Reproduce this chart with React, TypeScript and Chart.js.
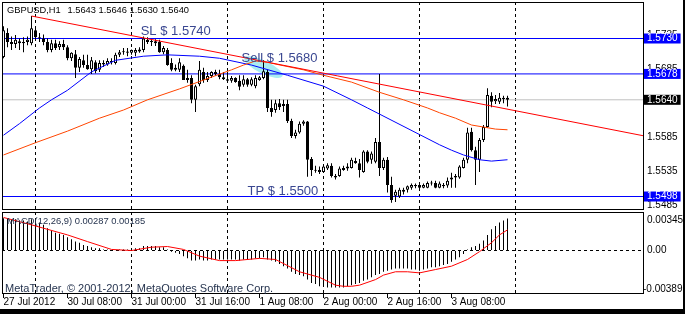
import React, { useEffect, useRef } from 'react';
import { Chart, registerables } from 'chart.js';

Chart.register(...registerables);

const FONT = "'Liberation Sans', Arial, Helvetica, sans-serif";

const symbolName = 'GBPUSD,H1';

const openP = [
  1.5703, 1.5738, 1.5725, 1.5722, 1.5726, 1.5723, 1.5725, 1.5723, 1.5742, 1.5732,
  1.5730, 1.5725, 1.5713, 1.5723, 1.5717, 1.5722, 1.5717, 1.5701, 1.5707, 1.5687,
  1.5698, 1.5691, 1.5685, 1.5695, 1.5684, 1.5694, 1.5692, 1.5697, 1.5694, 1.5706,
  1.5710, 1.5711, 1.5709, 1.5709, 1.5711, 1.5713, 1.5728, 1.5725, 1.5726, 1.5725,
  1.5710, 1.5713, 1.5694, 1.5687, 1.5684, 1.5690, 1.5669, 1.5672, 1.5640, 1.5663,
  1.5681, 1.5669, 1.5675, 1.5681, 1.5678, 1.5673, 1.5670, 1.5668, 1.5672, 1.5668,
  1.5662, 1.5670, 1.5662, 1.5660, 1.5669, 1.5672, 1.5681, 1.5628, 1.5625, 1.5635,
  1.5631, 1.5634, 1.5609, 1.5587, 1.5592, 1.5605, 1.5608, 1.5553, 1.5537, 1.5537,
  1.5534, 1.5539, 1.5543, 1.5528, 1.5528, 1.5537, 1.5539, 1.5540, 1.5550, 1.5547,
  1.5534, 1.5564, 1.5552, 1.5549, 1.5578, 1.5540, 1.5552, 1.5515, 1.5499, 1.5498,
  1.5505, 1.5508, 1.5511, 1.5513, 1.5515, 1.5511, 1.5511, 1.5518, 1.5518, 1.5511,
  1.5513, 1.5514, 1.5523, 1.5526, 1.5526, 1.5540, 1.5552, 1.5593, 1.5566, 1.5552,
  1.5581, 1.5600, 1.5646, 1.5638, 1.5637, 1.5643, 1.5643,
];
const highP = [
  1.5748, 1.5745, 1.5733, 1.5735, 1.5730, 1.5732, 1.5733, 1.5763, 1.5745, 1.5738,
  1.5736, 1.5730, 1.5728, 1.5728, 1.5726, 1.5728, 1.5720, 1.5710, 1.5713, 1.5703,
  1.5706, 1.5706, 1.5703, 1.5698, 1.5698, 1.5698, 1.5701, 1.5701, 1.5709, 1.5713,
  1.5716, 1.5716, 1.5714, 1.5716, 1.5717, 1.5733, 1.5732, 1.5729, 1.5729, 1.5728,
  1.5719, 1.5716, 1.5701, 1.5692, 1.5701, 1.5692, 1.5684, 1.5676, 1.5662, 1.5697,
  1.5687, 1.5681, 1.5682, 1.5684, 1.5684, 1.5681, 1.5681, 1.5675, 1.5673, 1.5676,
  1.5676, 1.5672, 1.5673, 1.5676, 1.5675, 1.5698, 1.5684, 1.5640, 1.5640, 1.5641,
  1.5640, 1.5640, 1.5612, 1.5596, 1.5608, 1.5610, 1.5609, 1.5556, 1.5543, 1.5542,
  1.5544, 1.5547, 1.5547, 1.5531, 1.5542, 1.5543, 1.5547, 1.5555, 1.5555, 1.5553,
  1.5566, 1.5566, 1.5564, 1.5584, 1.5678, 1.5555, 1.5556, 1.5527, 1.5508, 1.5511,
  1.5511, 1.5514, 1.5517, 1.5517, 1.5517, 1.5517, 1.5520, 1.5521, 1.5521, 1.5520,
  1.5518, 1.5526, 1.5533, 1.5531, 1.5544, 1.5555, 1.5599, 1.5599, 1.5571, 1.5584,
  1.5603, 1.5657, 1.5651, 1.5647, 1.5650, 1.5646, 1.5646,
];
const lowP = [
  1.5701, 1.5717, 1.5713, 1.5716, 1.5713, 1.5710, 1.5720, 1.5720, 1.5728, 1.5725,
  1.5720, 1.5710, 1.5710, 1.5713, 1.5713, 1.5713, 1.5698, 1.5697, 1.5672, 1.5681,
  1.5687, 1.5684, 1.5678, 1.5679, 1.5681, 1.5688, 1.5690, 1.5692, 1.5692, 1.5703,
  1.5706, 1.5704, 1.5706, 1.5704, 1.5709, 1.5710, 1.5722, 1.5719, 1.5719, 1.5709,
  1.5707, 1.5690, 1.5682, 1.5682, 1.5681, 1.5669, 1.5665, 1.5635, 1.5622, 1.5660,
  1.5665, 1.5666, 1.5672, 1.5675, 1.5670, 1.5669, 1.5665, 1.5665, 1.5665, 1.5654,
  1.5659, 1.5659, 1.5660, 1.5657, 1.5668, 1.5670, 1.5622, 1.5615, 1.5621, 1.5625,
  1.5622, 1.5606, 1.5584, 1.5583, 1.5590, 1.5602, 1.5527, 1.5528, 1.5533, 1.5531,
  1.5533, 1.5537, 1.5526, 1.5523, 1.5527, 1.5536, 1.5536, 1.5539, 1.5546, 1.5526,
  1.5533, 1.5547, 1.5546, 1.5547, 1.5528, 1.5537, 1.5504, 1.5489, 1.5490, 1.5496,
  1.5501, 1.5504, 1.5508, 1.5510, 1.5508, 1.5510, 1.5510, 1.5514, 1.5510, 1.5510,
  1.5510, 1.5511, 1.5511, 1.5511, 1.5524, 1.5539, 1.5547, 1.5564, 1.5515, 1.5534,
  1.5578, 1.5599, 1.5629, 1.5634, 1.5634, 1.5635, 1.5630,
];
const closeP = [
  1.5742, 1.5725, 1.5722, 1.5728, 1.5723, 1.5725, 1.5728, 1.5745, 1.5732, 1.5730,
  1.5725, 1.5713, 1.5723, 1.5716, 1.5722, 1.5717, 1.5701, 1.5709, 1.5687, 1.5700,
  1.5691, 1.5685, 1.5698, 1.5682, 1.5694, 1.5692, 1.5697, 1.5695, 1.5706, 1.5710,
  1.5711, 1.5709, 1.5713, 1.5713, 1.5714, 1.5730, 1.5725, 1.5726, 1.5723, 1.5710,
  1.5716, 1.5691, 1.5684, 1.5684, 1.5695, 1.5669, 1.5672, 1.5640, 1.5660, 1.5684,
  1.5669, 1.5675, 1.5681, 1.5678, 1.5673, 1.5670, 1.5668, 1.5672, 1.5666, 1.5659,
  1.5670, 1.5662, 1.5670, 1.5672, 1.5673, 1.5682, 1.5628, 1.5622, 1.5635, 1.5629,
  1.5634, 1.5609, 1.5587, 1.5592, 1.5605, 1.5608, 1.5552, 1.5537, 1.5536, 1.5534,
  1.5542, 1.5544, 1.5528, 1.5526, 1.5539, 1.5540, 1.5542, 1.5552, 1.5547, 1.5537,
  1.5564, 1.5549, 1.5561, 1.5578, 1.5540, 1.5552, 1.5515, 1.5493, 1.5505, 1.5508,
  1.5508, 1.5513, 1.5515, 1.5515, 1.5511, 1.5515, 1.5518, 1.5517, 1.5511, 1.5517,
  1.5515, 1.5521, 1.5526, 1.5528, 1.5542, 1.5552, 1.5592, 1.5566, 1.5552, 1.5581,
  1.5600, 1.5647, 1.5637, 1.5641, 1.5643, 1.5641, 1.5640,
];

// moving averages (bar index, price)
const maFastIdx = [0, 4, 9, 12, 16, 22, 28, 35, 41, 49, 54, 62, 71, 80, 87, 91, 94, 104, 109, 112, 115, 119, 122, 126];
const maFastVal = [1.5588, 1.5605, 1.5628, 1.5640, 1.5654, 1.5681, 1.5698, 1.5704, 1.5706, 1.5704, 1.5701, 1.5691, 1.5676, 1.5660, 1.5640, 1.5628, 1.5619, 1.5589, 1.5574, 1.5566, 1.5559, 1.5552, 1.5550, 1.5552];
const maSlowIdx = [0, 8, 16, 24, 30, 36, 44, 50, 57, 60, 63, 66, 70, 75, 80, 87, 94, 100, 106, 109, 113, 117, 120, 123, 126];
const maSlowVal = [1.5559, 1.5577, 1.5594, 1.5613, 1.5625, 1.5640, 1.5656, 1.5669, 1.5684, 1.5691, 1.5697, 1.5695, 1.5690, 1.5684, 1.5676, 1.5666, 1.5651, 1.5640, 1.5628, 1.5621, 1.5613, 1.5603, 1.5600, 1.5597, 1.5596];

// trend line (bar index, price)
const trendIdx = [7, 160.125];
const trendVal = [1.5763, 1.5587];

// horizontal levels
const levelVals = [1.5730, 1.5678, 1.5498];
const priceTickVals = [1.5485, 1.5535, 1.5585, 1.5685, 1.5735];

// text notes
const noteText = ['SL $ 1.5740', 'Sell $ 1.5680', 'TP $ 1.5500'];
const noteIdx = [34.3, 59.5, 61.0];
const notePrice = [1.5741, 1.5701, 1.5505];

// MACD(12,26,9)
const macdMain = [
  0.0029, 0.0029, 0.0028, 0.0028, 0.0027, 0.0027, 0.0026, 0.0028, 0.0027, 0.0025,
  0.0023, 0.0020, 0.0018, 0.0016, 0.0015, 0.0014, 0.0012, 0.0010, 0.0008, 0.0007,
  0.0005, 0.0004, 0.0003, 0.0002, 0.0002, 0.0001, 0.0001, 0.0000, 0.0000, 0.0001,
  0.0001, 0.0001, 0.0001, 0.0002, 0.0002, 0.0004, 0.0004, 0.0004, 0.0004, 0.0003,
  0.0003, 0.0001, -0.0001, -0.0002, -0.0003, -0.0005, -0.0007, -0.0009, -0.0009, -0.0008,
  -0.0009, -0.0009, -0.0008, -0.0008, -0.0008, -0.0008, -0.0008, -0.0008, -0.0008, -0.0009,
  -0.0008, -0.0008, -0.0008, -0.0007, -0.0007, -0.0006, -0.0008, -0.0009, -0.0010, -0.0012,
  -0.0014, -0.0016, -0.0019, -0.0021, -0.0022, -0.0023, -0.0026, -0.0029, -0.0030, -0.0032,
  -0.0032, -0.0033, -0.0033, -0.0033, -0.0033, -0.0033, -0.0032, -0.0031, -0.0030, -0.0029,
  -0.0027, -0.0026, -0.0024, -0.0022, -0.0021, -0.0019, -0.0018, -0.0017, -0.0016, -0.0016,
  -0.0016, -0.0016, -0.0017, -0.0017, -0.0018, -0.0017, -0.0016, -0.0015, -0.0015, -0.0014,
  -0.0013, -0.0012, -0.0010, -0.0008, -0.0006, -0.0003, 0.0001, 0.0003, 0.0004, 0.0006,
  0.0009, 0.0014, 0.0019, 0.0022, 0.0025, 0.0027, 0.00287,
];
const macdSigIdx = [0, 7, 16, 21, 27, 32, 37, 41, 45, 49, 54, 58, 64, 68, 74, 79, 83, 85, 87, 89, 93, 95, 98, 101, 104, 108, 112, 116, 119, 122, 124, 126];
const macdSigVal = [0.00296, 0.0023, 0.0014, 0.0008, 0.0001, 0.0000, 0.0003, 0.00036, 0.0001, -0.0005, -0.0009, -0.0009, -0.0007, -0.0008, -0.0019, -0.0024, -0.0031, -0.0032, -0.0032, -0.0031, -0.0026, -0.0022, -0.0019, -0.0019, -0.0020, -0.0017, -0.0014, -0.0008, -0.0001, 0.0007, 0.0014, 0.00185];
const macdMax = 0.00345;
const macdMin = -0.00389;

// time axis
const timeTickIdx = [0, 16, 32, 48, 64, 80, 96, 112];
const timeTickLabels = ['27 Jul 2012', '30 Jul 08:00', '31 Jul 00:00', '31 Jul 16:00', '1 Aug 08:00', '2 Aug 00:00', '2 Aug 16:00', '3 Aug 08:00'];
const gridIdx = [8, 32, 56, 80, 104, 128];

const X_MIN = -0.375;
const X_MAX = 160.125;
const PRICE_MAX = 1.57836;
const PRICE_MIN = 1.54782;

const NOTE_COLOR = '#3a4791';
const INFO_COLOR = '#26344f';

const frameOf = (chart: any) => {
  const { ctx, chartArea: a } = chart;
  ctx.save();
  ctx.strokeStyle = '#000';
  ctx.lineWidth = 1;
  ctx.strokeRect(a.left + 0.5, a.top + 0.5, a.right - a.left - 1, a.bottom - a.top - 1);
  ctx.restore();
};

const gridAxis = () => ({
  type: 'linear',
  position: 'bottom',
  min: X_MIN,
  max: X_MAX,
  offset: false,
  afterBuildTicks: (s: any) => {
    s.ticks = gridIdx.map((v) => ({ value: v }));
  },
  afterFit: (s: any) => {
    s.height = 0;
    s.paddingLeft = 0;
    s.paddingRight = 0;
  },
  ticks: { display: false, autoSkip: false },
  grid: { display: true, drawOnChartArea: true, drawTicks: false, color: '#000', lineWidth: 1, offset: false },
  border: { display: false, dash: [3, 3] },
});

export default function App() {
  const mainRef = useRef<HTMLCanvasElement>(null);
  const macdRef = useRef<HTMLCanvasElement>(null);

  useEffect(() => {
    const idx = openP.map((_, i) => i);
    const last = closeP.length - 1;
    const bid = closeP[last];

    const mainDecor = {
      id: 'mainDecor',
      beforeDatasetsDraw(chart: any) {
        const { ctx } = chart;
        const xs = chart.scales.x;
        const ys = chart.scales.y;
        ctx.save();
        ctx.fillStyle = '#a9ecf1';
        ctx.beginPath();
        ctx.ellipse(xs.getPixelForValue(65), ys.getPixelForValue(1.5688), 21, 6.5, 0.45, 0, Math.PI * 2);
        ctx.fill();
        ctx.restore();
      },
      afterDatasetsDraw(chart: any) {
        const { ctx } = chart;
        const xs = chart.scales.x;
        const ys = chart.scales.y;
        ctx.save();
        ctx.textBaseline = 'middle';
        ctx.fillStyle = NOTE_COLOR;
        ctx.font = `13px ${FONT}`;
        noteText.forEach((t, k) => {
          ctx.fillText(t, xs.getPixelForValue(noteIdx[k]), ys.getPixelForValue(notePrice[k]));
        });
        ctx.fillStyle = '#000';
        ctx.font = `9.3px ${FONT}`;
        const a = chart.chartArea;
        ctx.fillText(symbolName, a.left + 5, a.top + 8.5);
        const ohlc = [openP[last], highP[last], lowP[last], closeP[last]].map((v) => v.toFixed(4)).join(' ');
        ctx.fillText(ohlc, a.left + 65.5, a.top + 8.5);
        ctx.restore();
      },
      afterDraw(chart: any) {
        frameOf(chart);
      },
    };

    const isLevel = (v: number) => levelVals.includes(v);

    const main = new Chart(mainRef.current as HTMLCanvasElement, {
      type: 'bar',
      data: {
        datasets: [
          {
            type: 'bar',
            data: idx.map((i) => ({ x: i, y: [lowP[i], highP[i]] })),
            backgroundColor: '#000',
            barThickness: 1,
            grouped: false,
            inflateAmount: 0,
            order: 5,
          },
          {
            type: 'bar',
            data: idx.map((i) => ({ x: i, y: [openP[i], closeP[i]] })),
            backgroundColor: idx.map((i) => (closeP[i] >= openP[i] ? '#fff' : '#000')),
            borderColor: '#000',
            borderWidth: 1,
            borderSkipped: false,
            barThickness: 3,
            minBarLength: 1,
            grouped: false,
            inflateAmount: 0,
            order: 4,
          },
          ...levelVals.map((v) => ({
            type: 'line',
            data: [{ x: X_MIN, y: v }, { x: X_MAX, y: v }],
            borderColor: '#0000ff',
            borderWidth: 1,
            pointRadius: 0,
            order: 6,
          })),
          {
            type: 'line',
            data: [{ x: X_MIN, y: bid }, { x: X_MAX, y: bid }],
            borderColor: '#c0c0c0',
            borderWidth: 1,
            pointRadius: 0,
            order: 7,
          },
          {
            type: 'line',
            data: maSlowIdx.map((v, k) => ({ x: v, y: maSlowVal[k] })),
            borderColor: '#ff4500',
            borderWidth: 1,
            pointRadius: 0,
            order: 2,
          },
          {
            type: 'line',
            data: maFastIdx.map((v, k) => ({ x: v, y: maFastVal[k] })),
            borderColor: '#0000ff',
            borderWidth: 1,
            pointRadius: 0,
            order: 2,
          },
          {
            type: 'line',
            data: trendIdx.map((v, k) => ({ x: v, y: trendVal[k] })),
            borderColor: '#ff0000',
            borderWidth: 1,
            pointRadius: 0,
            order: 1,
          },
        ] as any,
      },
      options: {
        responsive: false,
        animation: false,
        devicePixelRatio: 1,
        events: [],
        layout: { padding: { top: 2, left: 2, right: 0, bottom: 104 } },
        plugins: { legend: { display: false }, tooltip: { enabled: false }, title: { display: false } },
        scales: {
          x: gridAxis() as any,
          y: {
            type: 'linear',
            position: 'right',
            min: PRICE_MIN,
            max: PRICE_MAX,
            afterBuildTicks: (s: any) => {
              s.ticks = [...priceTickVals, bid, ...levelVals].map((v) => ({ value: v }));
            },
            afterFit: (s: any) => {
              s.width = 41;
              s.paddingTop = 0;
              s.paddingBottom = 0;
            },
            grid: { display: false, drawTicks: false },
            border: { display: false },
            ticks: {
              autoSkip: false,
              padding: 3,
              font: { family: FONT, size: 10, lineHeight: 1 },
              color: (c: any) => (isLevel(c.tick.value) || c.tick.value === bid ? '#fff' : '#000'),
              showLabelBackdrop: (c: any) => isLevel(c.tick.value) || c.tick.value === bid,
              backdropColor: (c: any) => (c.tick.value === bid ? '#000' : '#0000ff'),
              backdropPadding: { left: 3, right: 3, top: 0, bottom: 0 },
              callback: (v: any) => Number(v).toFixed(4),
            },
          } as any,
        },
      },
      plugins: [mainDecor],
    } as any);

    const macdDecor = {
      id: 'macdDecor',
      afterDraw(chart: any) {
        frameOf(chart);
        const { ctx } = chart;
        const a = chart.chartArea;
        const ys = chart.scales.y;
        ctx.save();
        ctx.textBaseline = 'middle';
        ctx.fillStyle = INFO_COLOR;
        ctx.font = `9.4px ${FONT}`;
        const lastSig = macdSigVal[macdSigVal.length - 1];
        ctx.fillText(
          `MACD(12,26,9) ${macdMain[macdMain.length - 1].toFixed(5)} ${lastSig.toFixed(5)}`,
          a.left + 5,
          a.top + 9.5,
        );
        ctx.font = `11px ${FONT}`;
        ctx.fillText('MetaTrader, \u00a9 2001-2012, MetaQuotes Software Corp.', a.left + 3, a.bottom - 5.5);
        ctx.fillStyle = '#000';
        ctx.font = `10px ${FONT}`;
        ctx.fillText(macdMax.toFixed(5), ys.left + 3, ys.top + 8);
        ctx.fillText((0).toFixed(2), ys.left + 3, ys.getPixelForValue(0));
        ctx.fillText(macdMin.toFixed(5), ys.left - 1, ys.bottom - 4.5);
        // outer window edge
        ctx.fillStyle = '#000';
        ctx.fillRect(683, 0, 2, 314);
        ctx.fillRect(0, 309, 685, 5);
        ctx.restore();
      },
    };

    const macd = new Chart(macdRef.current as HTMLCanvasElement, {
      type: 'bar',
      data: {
        datasets: [
          {
            type: 'bar',
            data: idx.map((i) => ({ x: i, y: macdMain[i] })),
            backgroundColor: '#000',
            barThickness: 1,
            grouped: false,
            inflateAmount: 0,
            order: 2,
          },
          {
            type: 'line',
            data: macdSigIdx.map((v, k) => ({ x: v, y: macdSigVal[k] })),
            borderColor: '#ff0000',
            borderWidth: 1,
            pointRadius: 0,
            order: 1,
          },
        ] as any,
      },
      options: {
        responsive: false,
        animation: false,
        devicePixelRatio: 1,
        events: [],
        layout: { padding: { top: 212, left: 2, right: 0, bottom: 0 } },
        plugins: { legend: { display: false }, tooltip: { enabled: false }, title: { display: false } },
        scales: {
          x: gridAxis() as any,
          xt: {
            type: 'linear',
            position: 'bottom',
            min: X_MIN,
            max: X_MAX,
            offset: false,
            afterBuildTicks: (s: any) => {
              s.ticks = timeTickIdx.map((v) => ({ value: v }));
            },
            afterFit: (s: any) => {
              s.height = 20;
              s.paddingLeft = 0;
              s.paddingRight = 0;
            },
            grid: { drawOnChartArea: false, drawTicks: true, tickLength: 4, color: '#000', offset: false },
            border: { display: false },
            ticks: {
              autoSkip: false,
              maxRotation: 0,
              minRotation: 0,
              align: 'start',
              padding: -1,
              color: '#000',
              font: { family: FONT, size: 10, lineHeight: 1 },
              callback: (_v: any, i: number) => timeTickLabels[i],
            },
          } as any,
          y: {
            type: 'linear',
            position: 'right',
            min: macdMin,
            max: macdMax,
            afterBuildTicks: (s: any) => {
              s.ticks = [{ value: 0 }];
            },
            afterFit: (s: any) => {
              s.width = 41;
              s.paddingTop = 0;
              s.paddingBottom = 0;
            },
            grid: { color: '#000', drawTicks: false, lineWidth: 1 },
            border: { display: false, dash: [3, 3] },
            ticks: { display: false },
          } as any,
        },
      },
      plugins: [macdDecor],
    } as any);

    return () => {
      main.destroy();
      macd.destroy();
    };
  }, []);

  return (
    <div style={{ position: 'absolute', left: 0, top: 0, width: 685, height: 314, background: '#fff' }}>
      <canvas ref={mainRef} width={685} height={314} style={{ position: 'absolute', left: 0, top: 0, width: 685, height: 314 }} />
      <canvas ref={macdRef} width={685} height={314} style={{ position: 'absolute', left: 0, top: 0, width: 685, height: 314 }} />
    </div>
  );
}
